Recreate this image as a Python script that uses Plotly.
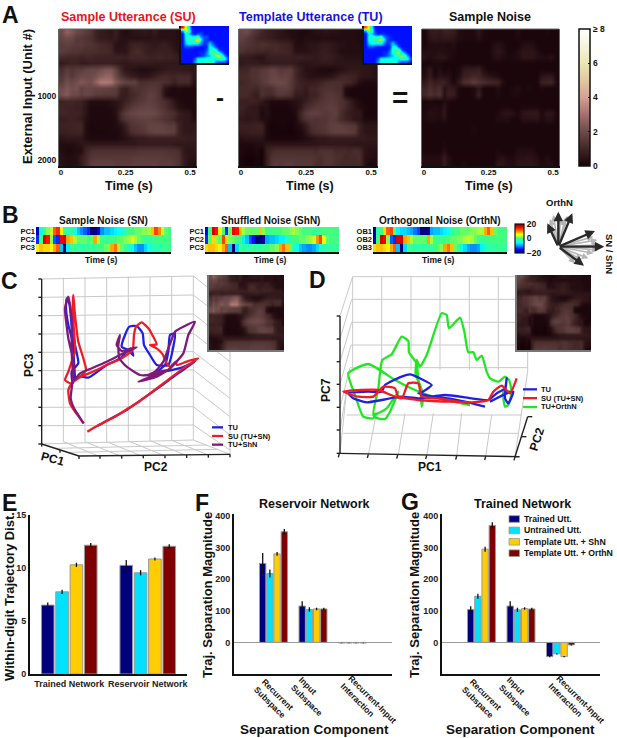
import plotly.graph_objects as go

# ---------- data ----------
TU_RATE = [
[1.9,2.0,1.6,1.3,1.0,.8,.7,.6,.5,.4,.3,.3,.2,.2,.3,.4,.4,.5,.4,.4,.3,.3,.3,.3,.2,.2,.2,.2],
[1.7,1.5,1.3,1.0,.9,.8,.7,.6,.5,.5,.4,.3,.2,.3,.3,.3,.3,.3,.3,.3,.3,.3,.3,.3,.2,.2,.2,.2],
[1.5,1.4,1.3,1.2,1.3,1.2,1.1,1.1,1.0,.9,.8,.3,.3,.4,.5,.5,.6,.7,.6,.5,.4,.4,.3,.3,.3,.2,.2,.2],
[1.3,1.1,1.1,1.0,1.0,.9,1.0,1.1,1.0,1.0,.9,.4,.4,.4,.5,.6,.7,.7,.6,.5,.3,.3,.3,.3,.3,.2,.2,.2],
[.7,.7,.6,.5,.4,.7,.8,.8,.8,.8,.8,.8,.8,.7,.7,.6,.7,.8,.7,.6,.5,.4,.4,.4,.4,.3,.3,.3],
[.6,.7,.7,.7,.6,.6,.7,.7,.7,.7,.7,.6,.5,.5,.5,.6,.6,.6,.6,.5,.5,.5,.5,.5,.5,.5,.5,.5],
[1.0,1.0,1.3,1.3,1.5,1.6,1.8,1.7,1.5,1.6,1.6,1.0,.7,.4,.4,.3,.2,.2,.2,.3,.4,.5,.6,.6,.6,.5,.5,.4],
[1.1,1.1,1.3,1.3,1.6,1.6,1.9,1.9,1.7,1.8,1.6,1.0,.7,.5,.4,.4,.4,.4,.5,.7,.9,1.0,.9,.9,.6,.5,.5,.4],
[1.0,1.1,1.2,1.3,1.5,1.7,1.9,2.0,2.0,1.9,1.5,1.1,.8,.8,.7,.8,.9,1.1,1.2,1.2,1.2,1.1,1.0,.7,.3,.2,.2,.2],
[1.1,1.1,1.1,1.0,1.3,1.2,1.3,1.6,1.7,1.7,1.5,1.0,.9,.7,1.0,1.0,1.2,1.3,1.3,1.2,1.2,.3,.2,.1,.1,.1,.1,.1],
[1.1,1.1,.9,.7,1.3,1.1,1.1,1.4,1.5,1.4,1.3,.7,.7,.6,.9,.9,1.2,1.4,1.5,1.4,1.2,.3,.1,.1,.1,.1,.1,.1],
[.8,.8,.9,.8,.6,.4,.2,.2,.2,.2,.3,.4,.5,.8,1.0,1.2,1.4,1.5,1.6,1.5,1.3,1.1,.8,.4,.2,.1,.1,.1],
[.9,.7,.6,.6,.3,.4,.1,.1,.1,.1,.2,.3,.6,1.1,1.3,1.5,1.5,1.6,1.7,1.6,1.3,1.1,.8,.5,.3,.2,.1,.1],
[.8,.6,.6,.6,.2,.4,.1,.1,.1,.1,.1,.3,1.0,1.5,1.7,1.7,1.6,1.5,1.6,1.7,1.2,.9,.7,.6,.6,.1,.1,.1],
[.6,.5,.6,.6,.3,.3,.1,.1,.1,.1,.1,.2,.9,1.3,1.4,1.3,1.4,1.4,1.6,1.5,1.1,.9,.8,.5,.5,.2,.2,.2],
[.8,.8,.8,.9,.9,.2,.05,.05,.1,.1,.0,.2,.3,.7,1.2,1.3,1.4,1.5,1.7,1.7,1.7,1.6,1.5,1.5,.8,.5,.5,.5],
[.7,.7,.8,.8,.8,.2,.05,.05,.05,.05,.0,.1,.2,.5,1.0,1.2,1.3,1.4,1.6,1.7,1.7,1.7,1.6,1.5,.8,.5,.5,.5],
[.4,.5,.5,.5,.5,.2,.1,.1,.1,.1,.1,.1,.2,.3,.4,.5,.6,.6,.7,.7,.7,.7,.7,.7,.7,.7,.6,.6],
[.2,.2,.2,.3,.3,.5,.5,.5,.5,.5,.5,.5,.5,.5,.5,.5,.6,.6,.6,.6,.6,.6,.6,.5,.5,.5,.5,.5],
[.2,.1,.1,.2,.0,.8,1.1,1.2,1.2,1.2,1.2,1.2,1.2,1.2,1.2,1.1,1.3,1.3,1.3,1.1,1.1,1.1,1.0,1.2,1.1,.5,.4,.4],
[.1,.0,.0,.1,.0,.7,1.3,1.4,1.4,1.4,1.4,1.4,1.4,1.4,1.4,1.3,1.2,1.4,1.4,1.2,1.2,1.0,1.1,1.1,1.2,.4,.4,.3],
[.1,.0,.0,.1,.0,.8,1.5,1.6,1.5,1.6,1.6,1.5,1.5,1.5,1.5,1.2,1.2,1.4,1.4,1.2,1.1,1.1,1.1,1.1,1.1,.4,.1,.2],
]
SN_RATE = [
[.1,.6,.7,.6,.8,.8,.7,.3,.2,.2,.2,.5,.2,.1,.1,.1,.1,.1,.1,.3,.1,.1,.1,.1,.1,.2,.1,.1],
[.1,.5,.6,.5,.6,.6,.5,.3,.2,.2,.2,.4,.2,.1,.1,.1,.1,.1,.1,.2,.1,.1,.1,.1,.1,.1,.1,.1],
[.1,.3,.3,.3,.3,.2,.3,.1,.1,.1,.1,.1,.1,.1,.3,.4,.3,.1,.1,.1,.3,.4,.3,.1,.1,.1,.1,.1],
[.3,.4,.3,.4,.3,.3,.2,.1,.1,.1,.1,.1,.1,.1,.4,.5,.4,.1,.1,.3,.5,.5,.5,.3,.1,.1,.1,.1],
[.4,.3,.4,.5,.5,.3,.2,.1,.1,.1,.1,.1,.1,.1,.3,.4,.3,.2,.2,.3,.5,.5,.5,.4,.3,.3,.4,.1],
[.1,.1,.2,.2,.1,.1,.1,.1,.1,.1,.1,.1,.1,.1,.1,.1,.1,.1,.1,.1,.1,.1,.1,.1,.1,.1,.1,.1],
[.2,.6,.1,.3,.1,.2,.1,.2,.6,.7,.7,.8,.3,.1,.1,.1,.1,.1,.1,.1,.1,.1,.1,.1,.1,.1,.1,.1],
[.3,.7,.2,.5,.4,.4,.1,.3,.8,.9,1.1,1.0,.7,.5,.4,.3,.1,.1,.1,.1,.1,.1,.1,.1,.5,.6,.6,.1],
[.6,1.0,.7,.8,.9,.5,.2,.6,1.2,1.3,1.6,1.3,1.2,1.0,1.0,.9,.3,.1,.1,.1,.1,.1,.1,.1,.8,.9,.9,.2],
[.9,1.2,1.0,1.2,.4,.7,.6,.2,.1,.1,.2,.6,.1,.1,.1,.3,.1,.1,.2,.3,.1,.2,.1,.1,.2,.1,.1,.1],
[1.0,1.3,1.1,1.3,.4,.8,.7,.2,.1,.1,.2,.8,.1,.1,.1,.2,.1,.1,.2,.2,.1,.1,.1,.1,.1,.1,.1,.1],
[.1,.2,.1,.1,.3,.2,.1,.1,.1,.1,.1,.1,.1,.1,.1,.1,.1,.1,.1,.1,.1,.1,.1,.1,.1,.1,.1,.1],
[.1,.2,.3,.2,.5,.1,.1,.1,.1,.1,.1,.1,.1,.1,.1,.1,.2,.2,.1,.1,.2,.2,.2,.2,.1,.1,.1,.1],
[.2,.4,.3,.3,.6,.1,.1,.1,.1,.1,.1,.1,.1,.1,.1,.2,.4,.5,.4,.2,.5,.6,.6,.6,.2,.5,.5,.1],
[.2,.3,.3,.2,.4,.1,.1,.1,.1,.1,.1,.1,.1,.1,.1,.3,.3,.3,.1,.1,.4,.4,.4,.5,.2,.4,.4,.1],
[.1,.1,.1,.1,.1,.1,.1,.1,.1,.1,.2,.1,.1,.1,.1,.1,.1,.1,.1,.1,.1,.1,.1,.1,.1,.1,.1,.1],
[.1,.1,.1,.1,.1,.1,.1,.1,.1,.1,.2,.1,.1,.1,.1,.1,.1,.1,.1,.1,.1,.1,.1,.1,.1,.1,.1,.1],
[.1,.1,.1,.1,.1,.1,.1,.1,.1,.1,.1,.1,.1,.1,.1,.1,.1,.1,.1,.1,.1,.1,.1,.1,.1,.1,.1,.1],
[.1,.1,.1,.1,.2,.1,.1,.1,.1,.1,.1,.1,.1,.1,.1,.1,.1,.1,.1,.1,.1,.1,.1,.1,.1,.1,.1,.1],
[.1,.1,.1,.1,.3,.1,.1,.1,.1,.1,.1,.1,.1,.1,.1,.2,.1,.1,.1,.3,.3,.3,.3,.1,.1,.1,.1,.1],
[.3,.3,.3,.3,.7,.3,.1,.1,.1,.1,.1,.1,.1,.1,.1,.3,.4,.2,.2,.4,.4,.5,.4,.3,.1,.3,.1,.1],
[.3,.3,.3,.3,.7,.3,.1,.1,.2,.1,.1,.1,.1,.1,.1,.5,.5,.3,.3,.5,.5,.5,.5,.4,.2,.3,.3,.1],
]
SU_RATE = [[a + b for a, b in zip(r1, r2)] for r1, r2 in zip(TU_RATE, SN_RATE)]

SU_SPEC = [
[7,5,3,1,1,1,1,1,1,1,1,1,1,1,1,1],
[2,5,4,1.2,1,1,1,1,1,1,1,1,1,1,1,1],
[1,3,2.5,1.5,1,1.5,1.5,1,1,1,1,1,1,1,1,1],
[1,3,3.5,3,3,3.5,2,1.5,1.5,1,1,1,1,1,1,1],
[1,2.8,3.5,3.5,4,6.5,3,1.5,1.2,1,1,1,1,1,1,1],
[1,2.5,3,3,3,3,2,1.2,1.5,2.5,1.5,1,1,1,1,1],
[1,1.5,1.5,1.2,1,1,1,1,1.2,3,2.5,1.5,1,1,1,1],
[1,1,1,1,1,1,1,1,1.5,3,3.5,3,1.5,1,1,1],
[1,1,1,1,1,1,1.2,1.2,2,3,4.5,4,3,2,1,1],
[1,1,1,1,1,1,1.2,1.5,2,2.5,3,4.5,5,3.5,2,1],
[1,1,1,1,1.5,3,3,3,3.2,3.2,3.2,3,3.5,4,3.2,1.5],
[1,1,1,1,2,3,3,3,3.5,3.5,3,2,1.5,1.5,1.5,1],
]
TU_SPEC = [
[6.5,5,3,1,1,1,1,1,1,1,1,1,1,1,1,1],
[2,4.5,3.5,1.2,1,1,1,1,1,1,1,1,1,1,1,1],
[1,2.8,2.5,1.5,1,1.2,1.2,1,1,1,1,1,1,1,1,1],
[1,3,3.5,3,3,3.5,2,1.5,1.2,1,1,1,1,1,1,1],
[1,3,3.5,3.5,4.5,5,3,1.5,1.2,1,1,1,1,1,1,1],
[1,2.5,3,3,3,3,2,1.2,1.5,2.5,1.5,1,1,1,1,1],
[1,1.5,1.5,1.2,1,1,1,1,1.2,3,3,1.5,1,1,1,1],
[1,1,1,1,1,1,1,1,1.5,3.5,4,3.5,1.5,1,1,1],
[1,1,1,1,1,1,1.2,1.2,2,3,4,4.5,3,2,1,1],
[1,1,1,1,1,1,1.2,1.5,2,2.5,3,4,4.5,3.5,2,1],
[1,1,1,1,1.5,3,3,3,3,3,3,3,3.5,3.5,3,1.5],
[1,1,1,1,2,3,3,3,3.2,3.2,3,2,1.5,1.5,1.5,1],
]

SN_PC = [
[-18,-4,0,2,4,12,14,6,0,-2,-2,-4,-8,-10,-12,-14,-20,-20,-16,-10,-8,-8,-7,-6,-5,-4,-2,0,0,1,1,2,2,3,8,13,10,4,1,0],
[-14,0,17,15,2,-12,-14,16,17,9,8,3,1,1,1,0,1,9,3,0,-1,-1,0,0,1,1,2,3,5,3,1,0,-1,-1,-1,0,0,0,0,0],
[6,8,7,7,6,9,12,-8,-20,-6,-1,-1,-2,-2,-1,-2,-1,-1,-1,0,1,2,9,11,7,1,-1,-3,-5,-8,-10,-10,-7,-4,-3,-2,-2,-1,-1,-1],
]
SHN_PC = [
[-16,0,17,15,6,0,-14,1,16,15,8,3,1,1,1,1,8,2,0,-1,0,0,0,1,1,2,3,2,1,0,0,0,-1,-1,0,0,0,0,0,0],
[-14,1,7,2,1,13,7,2,1,0,0,-6,-8,-13,-15,-20,-20,-19,-9,-8,-8,-7,-6,-6,-3,-1,0,0,1,1,2,3,4,10,13,5,1,0,0,0],
[7,8,8,7,6,9,12,-8,-20,-7,-1,-2,-2,-2,-1,-2,-1,-1,0,1,1,2,9,11,8,1,-2,-5,-8,-9,-10,-10,-9,-7,-3,-2,-2,-1,-1,-1],
]
ORTH_PC = [
[-20,-2,0,7,12,13,1,-6,-7,-7,-8,-9,-11,-13,-20,-20,-19,-9,-8,-8,-7,-6,-5,-2,0,0,1,1,1,2,2,3,3,9,12,8,1,0,0,0],
[-18,0,17,16,2,-12,-14,17,17,9,8,3,1,1,1,1,9,3,0,-1,-1,0,0,1,1,2,2,3,4,3,1,0,-1,-1,0,0,0,0,0,0],
[7,8,8,7,6,9,12,-8,-20,-7,-1,-1,-2,-2,-1,-2,-1,-1,0,1,2,9,11,8,1,-1,-4,-7,-9,-10,-10,-9,-6,-3,-2,-2,-1,-1,-1,-1],
]
PC_LABELS = ["PC1", "PC2", "PC3"]
OB_LABELS = ["OB1", "OB2", "OB3"]

# trajectories, projected 3-D views (C: crop units of 1/3 px)
C_TU_X = [292,330,380,430,480,530,585,545,500,470,495,505,510,525,520,505,470,450,432,428,410,388,375,365,385,400,392,360,320,290,265,245,225,218,215,235,225,215,208,200,198,205,218,222,225]
C_TU_Y = [483,462,435,400,365,328,290,308,318,322,300,260,210,205,245,300,300,270,240,205,183,185,210,245,255,272,250,280,300,322,338,335,340,355,320,295,240,180,115,100,130,180,230,290,340]
C_SU_X = [262,300,350,385,420,460,510,550,595,560,530,528,510,500,488,470,450,470,458,445,425,408,402,398,380,355,320,290,255,235,212,195,205,215,225,222,218,220,225,235,250,258,240,218,205,210,225,240,252]
C_SU_Y = [500,478,452,430,408,378,340,310,280,290,300,290,305,295,268,250,240,238,212,190,172,185,210,255,270,285,300,315,330,340,355,345,320,290,260,200,130,90,150,230,280,315,335,350,375,415,440,460,475]
C_SHN_X = [250,235,222,212,215,222,205,195,205,215,215,222,240,270,320,370,410,380,365,350,360,355,358,380,420,445,470,500,415,470,510,550,565,585,550,525,505,490,465,445]
C_SHN_Y = [475,450,430,400,370,300,220,130,95,160,260,345,325,312,290,265,247,255,258,240,210,240,280,305,330,330,322,315,350,335,310,265,210,170,185,200,250,290,320,330]

D_TU_X = [540,490,430,385,340,345,380,345,315,290,240,230,190,130,145,185,230,285,340,420,500,550,575,600,605,600,610,625,605,555]
D_TU_Y = [425,412,400,395,385,385,360,340,328,335,360,380,380,385,400,412,405,395,400,390,400,405,385,370,340,400,415,380,385,410]
D_SU_X = [635,615,590,565,550,500,430,340,280,270,235,220,205,160,115,170,220,290,310,340,350,400,490]
D_SU_Y = [340,385,362,380,405,412,410,405,395,370,365,380,395,395,380,375,375,400,355,355,395,400,415]
D_ORTH_X = [495,400,330,270,190,130,150,175,205,210,212,240,255,280,245,205,220,232,260,290,310,312,335,340,355,350,345,332,335,345,365,410,425,432,465,478,490,505,515,530,545,555,580,600,612,620,610,600,595,620]
D_ORTH_Y = [420,400,375,345,297,325,390,455,460,445,458,462,440,380,430,450,370,285,268,215,228,262,295,345,390,425,360,330,285,305,270,145,150,190,158,200,262,262,285,272,320,340,350,335,345,380,420,425,380,380]

# box lines of the 3-D views: x0, y0, x1, y1
C_GRID = [(125,42,580,33),(125,97,580,90),(125,152,580,147),(125,207,580,205),(125,262,580,260),(125,317,580,315),(125,372,580,370),(125,427,580,425),(125,482,580,480),(125,537,580,525),
          (190,38,190,530),(255,37,255,530),(320,36,320,530),(385,35,385,528),(450,34,450,527),(515,33,515,526),(580,33,580,525),
          (580,33,690,120),(580,90,690,175),(580,147,690,232),(580,205,690,290),(580,260,690,345),(580,315,690,400),(580,370,690,455),(580,425,690,510),(580,480,690,555),(580,525,690,568),(690,120,690,568),
          (190,530,300,575),(255,530,365,575),(320,530,430,575),(385,528,495,573),(450,527,560,572),(515,526,625,570),
          (165,550,620,540),(205,562,655,553)]
C_AXES = [(125,42,125,537),(125,537,237,573),(237,573,690,568),
          (115,42,125,42),(115,97,125,97),(115,152,125,152),(115,207,125,207),(115,262,125,262),(115,317,125,317),(115,372,125,372),(115,427,125,427),(115,482,125,482),(115,537,125,537),
          (237,573,237,582),(300,573,300,581),(365,572,365,581),(430,572,430,580),(495,571,495,580),(560,570,560,579),(625,569,625,578),(690,568,690,577),
          (180,555,180,563),(125,537,125,545)]
D_GRID = [(143,35,668,35),(140,103,668,103),(140,172,668,172),(138,240,668,240),(135,308,668,308),
          (143,35,143,315),(230,35,230,315),(318,35,318,315),(405,35,405,315),(493,35,493,315),(580,35,580,315),(668,35,668,320),
          (105,153,143,35),(105,222,140,103),(105,290,140,172),(105,358,138,240),(105,427,135,308),(105,495,125,375),
          (668,320,630,575),(125,450,650,450),(115,505,640,505),
          (105,565,125,375),(190,570,215,440),(280,570,300,445),(365,575,385,445),(455,575,470,445),(542,575,560,450)]
D_AXES = [(105,153,105,565),(105,565,640,575),(630,575,668,455),
          (95,153,105,153),(95,222,105,222),(95,290,105,290),(95,358,105,358),(95,427,105,427),(95,495,105,495),(95,565,105,565),
          (103,565,100,577),(190,568,187,579),(278,570,275,581),(365,571,362,582),(455,573,452,584),(542,574,539,585),(630,575,627,586),
          (668,455,682,455),(650,515,664,515),(630,575,644,575)]

ARROW_TIPS_BLACK = [(112,85),(145,50),(187,55),(255,108),(283,155),(222,212)]
ARROW_TIPS_GREY = [(130,60),(120,72),(165,72),(172,62),(152,68),(250,125),(262,135),(265,150),(265,165),(250,175),(235,190),(215,195),(195,205)]

SERIES_NAMES = ["Trained Utt.", "Untrained Utt.", "Template Utt. + ShN", "Template Utt. + OrthN"]
E_GROUPS = ["Trained Network", "Reservoir Network"]
E_VALUES = [[6.5, 10.25], [7.75, 9.55], [10.3, 10.85], [12.15, 12.05]]
E_ERRORS = [[.25, .5], [.2, .25], [.2, .15], [.2, .2]]
F_VALUES = [[250, 115, -2], [218, 104, -2], [280, 106, -2], [350, 106, -2]]
F_ERRORS = [[33, 15, 1], [13, 7, 1], [6, 4, 1], [9, 4, 1]]
G_VALUES = [[104, 115, -45], [146, 103, -36], [295, 107, -45], [370, 106, -8]]
G_ERRORS = [[10, 15, 2], [8, 7, 2], [8, 4, 2], [10, 4, 2]]
COMP_POS = [0, 1, 2]
BAR_COLORS = ["#00007f", "#00e1ff", "#ffcc00", "#7f0000"]

# ---------- helpers ----------
W, H = 617, 738
FONT = "Liberation Sans"
PINK = [[0,"rgb(22,2,8)"],[.125,"rgb(66,38,38)"],[.25,"rgb(108,74,74)"],[.375,"rgb(165,112,108)"],[.5,"rgb(210,160,150)"],
        [.625,"rgb(225,200,160)"],[.75,"rgb(235,230,180)"],[.875,"rgb(245,245,220)"],[1,"rgb(255,255,255)"]]
JET = [[0,"#00007f"],[.11,"#0000ff"],[.36,"#00ffff"],[.5,"#40ff80"],[.64,"#ffff00"],[.89,"#ff0000"],[1,"#7f0000"]]

fig = go.Figure()
layout = {}
annotations = []
shapes = []
n_axes = [0]

def axes(x0, x1, top, bot, xcfg=None, ycfg=None):
    n_axes[0] += 1
    i = n_axes[0]
    base = dict(showgrid=False, zeroline=False, showticklabels=False, ticks="", showline=False,
                tickfont=dict(family=FONT, size=9, color="#111", weight=700))
    xc = dict(base); xc.update(xcfg or {})
    yc = dict(base); yc.update(ycfg or {})
    suffix = "" if i == 1 else str(i)
    xc.update(domain=[x0 / W, x1 / W], anchor="y" + suffix)
    yc.update(domain=[1 - bot / H, 1 - top / H], anchor="x" + suffix)
    layout["xaxis" + suffix] = xc
    layout["yaxis" + suffix] = yc
    return "x" + suffix, "y" + suffix

def txt(x, y, s, size=9, color="#111", angle=0, anchor="center", weight=700):
    annotations.append(dict(x=x / W, y=1 - y / H, xref="paper", yref="paper", text=s, showarrow=False,
                            xanchor=anchor, yanchor="middle", textangle=angle, align="left",
                            font=dict(family=FONT, size=size, color=color, weight=weight)))

def segs(items):
    xs, ys = [], []
    for a, b, c, d in items:
        xs += [a, c, None]
        ys += [b, d, None]
    return xs, ys

def rate_panel(z, x0, x1, top_end, colorbar=False, ylabels=False):
    yc = dict(range=[2094, -47], showline=True, linecolor="#666", linewidth=1, mirror=True)
    if ylabels:
        yc.update(showticklabels=True, tickvals=[1000, 2000], ticktext=["1000", "2000"], tickfont=dict(family=FONT, size=8.5, color="#111", weight=700))
    xa, ya = axes(x0, x1, 29, 166,
                  dict(range=[-0.008, 0.523], showline=True, linecolor="#111", linewidth=2, showticklabels=True, ticklabelstandoff=-3,
                       tickvals=[0, .25, .5], ticktext=["0", "0.25", "0.5"], tickfont=dict(family=FONT, size=8, color="#111", weight=700)), yc)
    rows, cols = len(z), len(z[0])
    tr = dict(z=z, zmin=0, zmax=8, colorscale=PINK, zsmooth="best", xaxis=xa, yaxis=ya,
              x0=-0.008 + 0.531 / cols / 2, dx=0.531 / cols, y0=-47 + 2141 / rows / 2, dy=2141 / rows, showscale=False)
    if colorbar:
        tr.update(showscale=True, colorbar=dict(x=579 / W, xanchor="left", xpad=0, ypad=0, thickness=11, len=137 / H, lenmode="fraction",
                  y=1 - 97.5 / H, yanchor="middle", outlinecolor="#111", outlinewidth=1.5, tickvals=[0, 2, 4, 6, 8], ticktext=["0", "2", "4", "6", "≥ 8"],
                  ticks="inside", ticklen=2, tickcolor="#111", tickfont=dict(family=FONT, size=8.5, color="#111", weight=700)))
    fig.add_trace(go.Heatmap(**tr))
    shapes.append(dict(type="line", xref="paper", yref="paper", x0=x0 / W, x1=top_end / W, y0=1 - 29 / H, y1=1 - 29 / H, line=dict(color="#666", width=1)))

def inset(z, x0, x1, top, bot, colorscale, zmax, smooth="best", line="#111"):
    xa, ya = axes(x0, x1, top, bot, dict(range=[-.5, len(z[0]) - .5], showline=True, linecolor=line, linewidth=1.5),
                  dict(range=[len(z) - .5, -.5], showline=True, linecolor=line, linewidth=1.5))
    fig.add_trace(go.Heatmap(z=z, zmin=0, zmax=zmax, colorscale=colorscale, zsmooth=smooth, showscale=False, xaxis=xa, yaxis=ya))

def pc_panel(z, labels, x0, x1, colorbar=False):
    xa, ya = axes(x0, x1, 227, 252, dict(range=[-.5, 39.5], showline=True, linecolor="#111", linewidth=2),
                  dict(range=[2.5, -.5], showticklabels=True, tickvals=[0, 1, 2], ticktext=labels, ticklen=0,
                       tickfont=dict(family=FONT, size=7.5, color="#111", weight=700)))
    tr = dict(z=z, zmin=-20, zmax=20, colorscale=JET, xaxis=xa, yaxis=ya, showscale=False)
    if colorbar:
        tr.update(showscale=True, colorbar=dict(x=515 / W, xanchor="left", xpad=0, ypad=0, thickness=9, len=29 / H, lenmode="fraction",
                  y=1 - 238.5 / H, yanchor="middle", outlinecolor="#111", outlinewidth=1.2, tickvals=[-20, 0, 20], ticktext=["−20", "0", "20"],
                  ticks="", tickfont=dict(family=FONT, size=8.5, color="#111", weight=700)))
    fig.add_trace(go.Heatmap(**tr))

def bars(values, errors, groups, x0, x1, top, bot, xcfg, ycfg):
    xa, ya = axes(x0, x1, top, bot, xcfg, ycfg)
    for vals, errs, col, name in zip(values, errors, BAR_COLORS, SERIES_NAMES):
        fig.add_trace(go.Bar(x=groups, y=vals, name=name, marker=dict(color=col, line=dict(color="#999", width=1)),
                             error_y=dict(type="data", array=errs, color="#111", thickness=1.3, width=0),
                             xaxis=xa, yaxis=ya, showlegend=False))

# ---------- panels ----------
# C and D views first so that the insets lie over them
cx, cy = axes(0, 300, 265, 485, dict(range=[0, 900]), dict(range=[660, 0]))
gx, gy = segs(C_GRID)
fig.add_trace(go.Scatter(x=gx, y=gy, mode="lines", line=dict(color="#c9c9c9", width=1), xaxis=cx, yaxis=cy, showlegend=False))
gx, gy = segs(C_AXES)
fig.add_trace(go.Scatter(x=gx, y=gy, mode="lines", line=dict(color="#222", width=1.4), xaxis=cx, yaxis=cy, showlegend=False))
for xs, ys, col in [(C_TU_X, C_TU_Y, "#2020e0"), (C_SU_X, C_SU_Y, "#f01c24"), (C_SHN_X, C_SHN_Y, "#7f1a7a")]:
    fig.add_trace(go.Scatter(x=xs, y=ys, mode="lines", line=dict(color=col, width=2.3, shape="spline", smoothing=.5), xaxis=cx, yaxis=cy, showlegend=False))

dx, dy = axes(305, 617, 265, 485, dict(range=[0, 936]), dict(range=[660, 0]))
gx, gy = segs(D_GRID)
fig.add_trace(go.Scatter(x=gx, y=gy, mode="lines", line=dict(color="#c9c9c9", width=1), xaxis=dx, yaxis=dy, showlegend=False))
gx, gy = segs(D_AXES)
fig.add_trace(go.Scatter(x=gx, y=gy, mode="lines", line=dict(color="#222", width=1.4), xaxis=dx, yaxis=dy, showlegend=False))
for xs, ys, col in [(D_ORTH_X, D_ORTH_Y, "#22e622"), (D_TU_X, D_TU_Y, "#2020e0"), (D_SU_X, D_SU_Y, "#f01c24")]:
    fig.add_trace(go.Scatter(x=xs, y=ys, mode="lines", line=dict(color=col, width=2.3, shape="spline", smoothing=.5), xaxis=dx, yaxis=dy, showlegend=False))

# legends of C, D
for i, (lab, col) in enumerate([("TU", "#2020e0"), ("SU (TU+SN)", "#f01c24"), ("TU+ShN", "#7f1a7a")]):
    yy = 265 + (487 + 26 * i) / 3
    shapes.append(dict(type="line", xref="paper", yref="paper", x0=212 / W, x1=223 / W, y0=1 - yy / H, y1=1 - yy / H, line=dict(color=col, width=2.3)))
    txt(226, yy, lab, 7.5, anchor="left")
for i, (lab, col) in enumerate([("TU", "#2020e0"), ("SU (TU+SN)", "#f01c24"), ("TU+OrthN", "#22e622")]):
    yy = 265 + (373 + 26.5 * i) / 3
    shapes.append(dict(type="line", xref="paper", yref="paper", x0=523 / W, x1=537 / W, y0=1 - yy / H, y1=1 - yy / H, line=dict(color=col, width=2.3)))
    txt(539, yy, lab, 7.5, anchor="left")

# A
rate_panel(SU_RATE, 59, 196, 181, ylabels=True)
rate_panel(TU_RATE, 239, 377, 364)
rate_panel(SN_RATE, 422, 559, 559, colorbar=True)
inset(SU_SPEC, 181, 229, 26, 63, JET, 8)
inset(TU_SPEC, 364, 412, 26, 63, JET, 8)
inset(SU_RATE, 209, 284, 275, 350, PINK, 8, line="#777")
inset(TU_RATE, 517, 591, 275, 350, PINK, 8, line="#777")

# B
pc_panel(SN_PC, PC_LABELS, 36, 171)
pc_panel(SHN_PC, PC_LABELS, 205, 339)
pc_panel(ORTH_PC, OB_LABELS, 373, 507, colorbar=True)

# arrows
ax, ay = axes(510, 617, 195, 280, dict(range=[0, 321]), dict(range=[255, 0]))
ORIGIN = (145, 155)
for tips, col, wid in [(ARROW_TIPS_GREY, "#b5b5b5", 1.6), (ARROW_TIPS_BLACK, "#2a2a2a", 2.4)]:
    for tx, ty in tips:
        annotations.append(dict(x=tx, y=ty, ax=ORIGIN[0], ay=ORIGIN[1], xref=ax, yref=ay, axref=ax, ayref=ay, text="", showarrow=True,
                                arrowhead=2, arrowsize=.8, arrowwidth=wid, arrowcolor=col))

# E, F, G
bars(E_VALUES, E_ERRORS, E_GROUPS, 30, 187, 515, 674,
     dict(type="category", range=[-.5, 1.5], showline=True, linecolor="#111", linewidth=2, showticklabels=True, tickangle=0, tickfont=dict(family=FONT, size=9, color="#222", weight=700)),
     dict(range=[0, 15], showline=True, linecolor="#111", linewidth=2, showticklabels=True, tickvals=[0, 5, 10, 15], tickfont=dict(family=FONT, size=9, color="#222", weight=700)))
comp_y = dict(range=[-100, 405], showline=True, linecolor="#111", linewidth=2, showticklabels=True, tickvals=[0, 100, 200, 300, 400],
              zeroline=True, zerolinecolor="#999", zerolinewidth=1.2, tickfont=dict(family=FONT, size=9, color="#222", weight=700))
comp_x = dict(range=[-1, 3], showline=True, linecolor="#111", linewidth=2, tickvals=COMP_POS)
bars(F_VALUES, F_ERRORS, COMP_POS, 234, 392, 514.4, 674, comp_x, comp_y)
bars(G_VALUES, G_ERRORS, COMP_POS, 442, 600, 514.4, 674, comp_x, comp_y)

# G legend
for i, (lab, col) in enumerate(zip(SERIES_NAMES, BAR_COLORS)):
    yy = 519 + 11.4 * i
    shapes.append(dict(type="rect", xref="paper", yref="paper", x0=509 / W, x1=519.5 / W, y0=1 - (yy - 3.3) / H, y1=1 - (yy + 3.3) / H,
                       fillcolor=col, line=dict(color="#999", width=.8)))
    txt(522, yy, lab, 8.7, anchor="left")

# texts
for s, x, y in [("A", 10, 15), ("B", 10, 215), ("C", 9, 281), ("D", 318, 280), ("E", 9, 503), ("F", 202, 503), ("G", 410, 502)]:
    txt(x, y, s, 23)
txt(128, 17, "Sample Utterance (SU)", 12.5, "#e8141c")
txt(311, 17, "Template Utterance (TU)", 12.5, "#1414e0")
txt(490, 17, "Sample Noise", 12.5)
for x in (129, 310, 489):
    txt(x, 186, "Time (s)", 12.5)
txt(27, 97, "External Input (Unit #)", 13, angle=-90)
txt(220, 98, "-", 24)
txt(400, 97, "=", 28)
for x, s in [(103, "Sample Noise (SN)"), (270, "Shuffled Noise (ShN)"), (440, "Orthogonal Noise (OrthN)")]:
    txt(x, 220, s, 10)
for x in (101, 270, 438):
    txt(x, 260, "Time (s)", 8.5)
txt(559, 202, "OrthN", 9.5)
txt(610, 254, "SN / ShN", 9.5, angle=90)
# C, D labels
txt(29, 365, "PC3", 12, angle=-90)
txt(53, 459, "PC1", 12, angle=15)
txt(156, 467, "PC2", 12)
txt(326, 390, "PC7", 12, angle=-90)
txt(430, 467, "PC1", 12)
txt(537, 439, "PC2", 12, angle=-72)
# E, F, G
txt(9, 597, "Within-digit Trajectory Dist.", 13, angle=-90)
txt(207, 595, "Traj. Separation Magnitude", 13, angle=-90)
txt(414, 595, "Traj. Separation Magnitude", 13, angle=-90)
txt(314, 504, "Reservoir Network", 12.5)
txt(522, 504, "Trained Network", 12.5)
txt(314, 729, "Separation Component", 13.5)
txt(520, 729, "Separation Component", 13.5)
for off in (0, 208):
    txt(274 + off, 698, "Recurrent<br>Subspace", 8.5, angle=45)
    txt(311 + off, 696, "Input<br>Subspace", 8.5, angle=45)
    txt(369 + off, 703, "Recurrent-Input<br>Interaction", 8.5, angle=45)

fig.update_layout(width=W, height=H, margin=dict(l=0, r=0, t=0, b=0, autoexpand=False), paper_bgcolor="white", plot_bgcolor="rgba(0,0,0,0)",
                  autosize=False, barmode="group", bargap=.27, bargroupgap=.12, annotations=annotations, shapes=shapes,
                  showlegend=False, **layout)
fig.write_html("out.html", post_script="document.body.style.margin='0';", config={"displayModeBar": False})
